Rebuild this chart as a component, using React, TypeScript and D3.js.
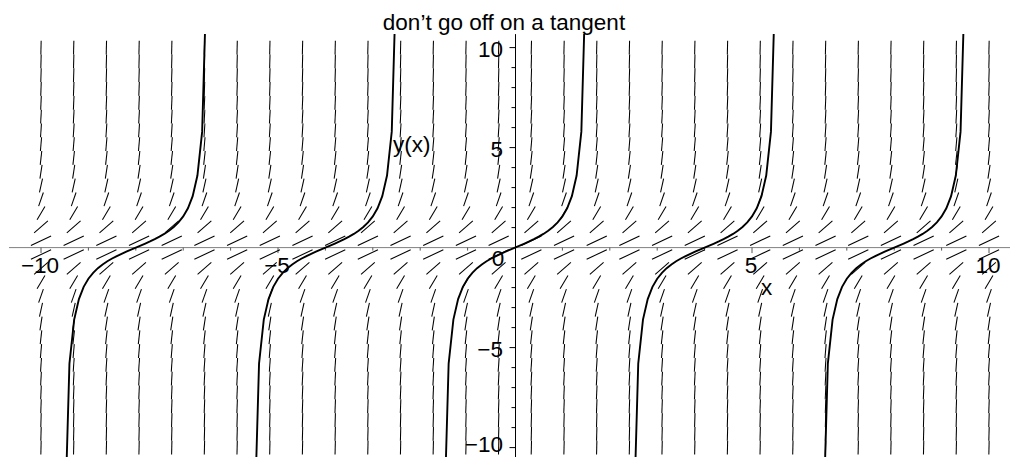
import React from "react";
import * as d3 from "d3";

const W = 1010;
const H = 457;

const title = "don’t go off on a tangent";
const xAxisLabel = "x";
const yAxisLabel = "y(x)";

const xTickValues = [-10, -5, 5, 10];
const xTickLabels = ["−10", "−5", "5", "10"];
const originLabel = "0";
const yTickValues = [-10, -5, 5, 10];
const yTickLabels = ["−10", "−5", "5", "10"];
const minorTicks = [-10, -9, -8, -7, -6, -5, -4, -3, -2, -1, 0, 1, 2, 3, 4, 5, 6, 7, 8, 9, 10];

// direction-field grid (30 x 30) and slopes dy/dx = 1 + y^2 on each row
const fieldXs = [-10, -9.3103, -8.6207, -7.931, -7.2414, -6.5517, -5.8621, -5.1724, -4.4828, -3.7931, -3.1034, -2.4138, -1.7241, -1.0345, -0.3448, 0.3448, 1.0345, 1.7241, 2.4138, 3.1034, 3.7931, 4.4828, 5.1724, 5.8621, 6.5517, 7.2414, 7.931, 8.6207, 9.3103, 10];
const fieldYs = [-10, -9.3103, -8.6207, -7.931, -7.2414, -6.5517, -5.8621, -5.1724, -4.4828, -3.7931, -3.1034, -2.4138, -1.7241, -1.0345, -0.3448, 0.3448, 1.0345, 1.7241, 2.4138, 3.1034, 3.7931, 4.4828, 5.1724, 5.8621, 6.5517, 7.2414, 7.931, 8.6207, 9.3103, 10];
const fieldSlopes = [101, 87.6825, 75.3163, 63.9013, 53.4376, 43.9251, 35.3638, 27.7539, 21.0951, 15.3876, 10.6314, 6.8264, 3.9726, 2.0702, 1.1189, 1.1189, 2.0702, 3.9726, 6.8264, 10.6314, 15.3876, 21.0951, 27.7539, 35.3638, 43.9251, 53.4376, 63.9013, 75.3163, 87.6825, 101];

// solution curves: crossing points of y = 0 and the sampled shape (step 0.1)
const curveCenters = [-8, -4, 0, 4, 8];
const curveOffsets = [-1.5, -1.4, -1.3, -1.2, -1.1, -1.0, -0.9, -0.8, -0.7, -0.6, -0.5, -0.4, -0.3, -0.2, -0.1, 0, 0.1, 0.2, 0.3, 0.4, 0.5, 0.6, 0.7, 0.8, 0.9, 1.0, 1.1, 1.2, 1.3, 1.4, 1.5];
const curveValues = [-14.1014, -5.7979, -3.6021, -2.5722, -1.9648, -1.5574, -1.2602, -1.0296, -0.8423, -0.6841, -0.5463, -0.4228, -0.3093, -0.2027, -0.1003, 0, 0.1003, 0.2027, 0.3093, 0.4228, 0.5463, 0.6841, 0.8423, 1.0296, 1.2602, 1.5574, 1.9648, 2.5722, 3.6021, 5.7979, 14.1014];

const FONT = "'Liberation Sans', Arial, Helvetica, sans-serif";
const FS = 22.5;

export default function App() {
  const x = d3.scaleLinear().domain([-10, 10]).range([41, 989]);
  const y = d3.scaleLinear().domain([-10, 10]).range([447.6, 47.6]);

  const clipLeft = x(-10.675);
  const clipTop = y(10.675);

  const segs: { x1: number; y1: number; x2: number; y2: number }[] = [];
  const wx = 1.7;
  const wy = 1.45;
  fieldYs.forEach((yv, j) => {
    const f = fieldSlopes[j];
    const s = 1 / Math.sqrt(wx * wx + wy * wy * f * f);
    const dx = s / 2;
    const dy = (s * f) / 2;
    fieldXs.forEach((xv) => {
      segs.push({ x1: x(xv - dx), y1: y(yv - dy), x2: x(xv + dx), y2: y(yv + dy) });
    });
  });

  const line = d3
    .line<number>()
    .x((d) => x(d))
    .y((d, i) => y(curveValues[i]));

  const x0 = x(0);
  const y0 = y(0);

  return (
    <svg
      width={W}
      height={H}
      style={{ position: "absolute", left: 0, top: 0, background: "#fff" }}
      fontFamily={FONT}
    >
      <defs>
        <clipPath id="plotclip">
          <rect x={clipLeft} y={clipTop} width={W - clipLeft} height={H - clipTop} />
        </clipPath>
      </defs>
      <rect x={0} y={0} width={W} height={H} fill="#fff" />

      {/* axes */}
      <line x1={clipLeft} x2={W} y1={y0} y2={y0} stroke="#808080" strokeWidth={1} />
      <line x1={x0 + 0.5} x2={x0 + 0.5} y1={clipTop} y2={H} stroke="#000" strokeWidth={1} />
      {minorTicks.map((t) => {
        const major = t % 5 === 0;
        return (
          <g key={"t" + t}>
            {t !== 0 && (
              <line x1={x(t)} x2={x(t)} y1={y0} y2={y0 + (major ? 5.5 : 3)} stroke="#555" strokeWidth={1} />
            )}
            {t !== 0 && (
              <line x1={x0 + 0.5 - (major ? 6 : 4)} x2={x0 + 0.5} y1={y(t)} y2={y(t)} stroke="#000" strokeWidth={1} />
            )}
          </g>
        );
      })}

      {/* direction field */}
      <g clipPath="url(#plotclip)">
        {segs.map((s, i) => (
          <line key={i} x1={s.x1} y1={s.y1} x2={s.x2} y2={s.y2} stroke="#000" strokeWidth={1.05} />
        ))}
      </g>

      {/* solution curves */}
      <g clipPath="url(#plotclip)">
        {curveCenters.map((c) => (
          <path
            key={"c" + c}
            d={line(curveOffsets.map((o) => c + o)) || ""}
            fill="none"
            stroke="#000"
            strokeWidth={1.9}
          />
        ))}
      </g>

      {/* tick labels */}
      {xTickValues.map((t, i) => (
        <text key={"xl" + t} x={x(t) - 1} y={273} fontSize={FS} textAnchor="middle" fill="#000">
          {xTickLabels[i]}
        </text>
      ))}
      <text x={498} y={266} fontSize={FS} textAnchor="middle" fill="#000">
        {originLabel}
      </text>
      {yTickValues.map((t, i) => (
        <text key={"yl" + t} x={503} y={Math.min(y(t) + 9.5, 451.5)} fontSize={FS} textAnchor="end" fill="#000">
          {yTickLabels[i]}
        </text>
      ))}

      {/* axis labels and title */}
      <text x={761} y={295} fontSize={FS} fill="#000">
        {xAxisLabel}
      </text>
      <text x={393} y={152} fontSize={FS} fill="#000">
        {yAxisLabel}
      </text>
      <text x={504} y={30} fontSize={FS} textAnchor="middle" fill="#000">
        {title}
      </text>
    </svg>
  );
}
